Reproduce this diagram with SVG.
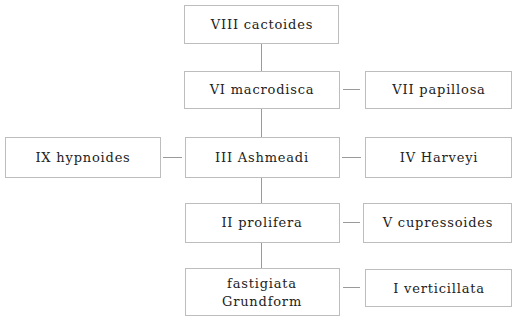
<svg xmlns="http://www.w3.org/2000/svg" width="515" height="325" viewBox="0 0 515 325">
<style>
.box{fill:#fff;stroke:#bdbdbd;stroke-width:1}
.t{font-family:"DejaVu Serif","Liberation Serif",serif;font-size:13px;fill:#222;text-anchor:middle;letter-spacing:0.8px}
.c{stroke:#9a9a9a;stroke-width:1;fill:none}
</style>
<rect width="515" height="325" fill="#fff"/>
<g id="connectors">
<line class="c" x1="261.5" y1="43" x2="261.5" y2="71"/>
<line class="c" x1="261.5" y1="108" x2="261.5" y2="137"/>
<line class="c" x1="261.5" y1="177" x2="261.5" y2="203"/>
<line class="c" x1="261.5" y1="242" x2="261.5" y2="268"/>
<line class="c" x1="343" y1="89.5" x2="360" y2="89.5"/>
<line class="c" x1="163" y1="157.5" x2="182" y2="157.5"/>
<line class="c" x1="342" y1="157.5" x2="361" y2="157.5"/>
<line class="c" x1="343" y1="222.5" x2="360" y2="222.5"/>
<line class="c" x1="343" y1="287.5" x2="360" y2="287.5"/>
</g>
<g id="n8"><rect class="box" x="184.5" y="5.5" width="154" height="38"/><text class="t" x="262" y="29">VIII cactoides</text></g>
<g id="n6"><rect class="box" x="184.5" y="71.5" width="155" height="37"/><text class="t" x="262" y="94">VI macrodisca</text></g>
<g id="n7"><rect class="box" x="365.5" y="71.5" width="146" height="37"/><text class="t" x="439" y="94">VII papillosa</text></g>
<g id="n9"><rect class="box" x="5.5" y="137.5" width="155" height="40"/><text class="t" x="83" y="162">IX hypnoides</text></g>
<g id="n3"><rect class="box" x="185.5" y="137.5" width="154" height="40"/><text class="t" x="262" y="162">III Ashmeadi</text></g>
<g id="n4"><rect class="box" x="365.5" y="137.5" width="146" height="40"/><text class="t" x="439" y="162">IV Harveyi</text></g>
<g id="n2"><rect class="box" x="185.5" y="203.5" width="154" height="39"/><text class="t" x="262" y="227">II prolifera</text></g>
<g id="n5"><rect class="box" x="363.5" y="203.5" width="148" height="39"/><text class="t" x="438" y="227">V cupressoides</text></g>
<g id="n0"><rect class="box" x="185.5" y="268.5" width="154" height="47"/><text class="t" x="262" y="288">fastigiata</text><text class="t" x="262" y="306">Grundform</text></g>
<g id="n1"><rect class="box" x="365.5" y="269.5" width="146" height="37"/><text class="t" x="439" y="293">I verticillata</text></g>
</svg>
